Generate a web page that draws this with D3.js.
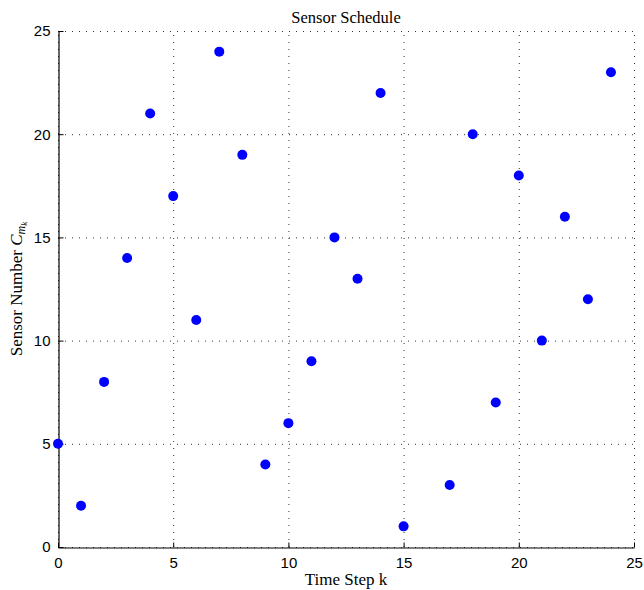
<!DOCTYPE html>
<html><head><meta charset="utf-8">
<script src="https://cdn.jsdelivr.net/npm/d3@7"></script>
<style>body{margin:0;background:#fff}</style>
</head><body>
<script>
const timeSteps = [0,1,2,3,4,5,6,7,8,9,10,11,12,13,14,15,17,18,19,20,21,22,23,24];
const sensorNumbers = [5,2,8,14,21,17,11,24,19,4,6,9,15,13,22,1,3,20,7,18,10,16,12,23];
const xTicks = [0,5,10,15,20,25];
const yTicks = [0,5,10,15,20,25];

const W = 644, H = 590;
const m = {left:58, right:10, top:31, bottom:43};
const svg = d3.select("body").append("svg").attr("width",W).attr("height",H);
const x = d3.scaleLinear().domain([0,25]).range([m.left, W-m.right]);
const y = d3.scaleLinear().domain([0,25]).range([H-m.bottom, m.top]);

// grid
const g = svg.append("g");
g.selectAll(".vg").data(xTicks).join("line")
  .attr("x1",d=>x(d)+0.5).attr("x2",d=>x(d)+0.5)
  .attr("y1",y(0)).attr("y2",y(25))
  .attr("stroke","#333").attr("stroke-width",1).attr("stroke-dasharray","1,6");
g.selectAll(".hg").data(yTicks).join("line")
  .attr("y1",d=>y(d)+0.5).attr("y2",d=>y(d)+0.5)
  .attr("x1",x(0)).attr("x2",x(25))
  .attr("stroke","#333").attr("stroke-width",1).attr("stroke-dasharray","1,6");

// axes
const xa = svg.append("g").attr("transform",`translate(0,${y(0)+0.5})`)
  .call(d3.axisBottom(x).tickValues(xTicks).tickSize(-5).tickPadding(10).tickSizeOuter(0));
const ya = svg.append("g").attr("transform",`translate(${x(0)+0.5},0)`)
  .call(d3.axisLeft(y).tickValues(yTicks).tickSize(-5).tickPadding(8).tickSizeOuter(0));
[xa,ya].forEach(a=>{
  a.select(".domain").attr("stroke","#000").attr("stroke-width",1.2);
  a.selectAll(".tick line").attr("stroke","#000");
  a.selectAll("text").attr("font-family","Liberation Sans, Arial, sans-serif").attr("font-size",15).attr("fill","#000");
});

// points
svg.append("g").selectAll("circle").data(timeSteps.map((t,i)=>[t,sensorNumbers[i]])).join("circle")
  .attr("cx",d=>x(d[0])).attr("cy",d=>y(d[1])).attr("r",5).attr("fill","#0000ff");

const serif = "Liberation Serif, DejaVu Serif, serif";
svg.append("text").attr("x",(x(0)+x(25))/2).attr("y",23).attr("text-anchor","middle")
  .attr("font-family",serif).attr("font-size",16.5).text("Sensor Schedule");
svg.append("text").attr("x",(x(0)+x(25))/2).attr("y",585).attr("text-anchor","middle")
  .attr("font-family",serif).attr("font-size",17).text("Time Step k");
const yl = svg.append("text").attr("transform",`translate(22,${(y(0)+y(25))/2}) rotate(-90)`)
  .attr("text-anchor","middle").attr("font-family",serif).attr("font-size",17);
yl.append("tspan").text("Sensor Number ");
yl.append("tspan").attr("font-style","italic").text("C");
yl.append("tspan").attr("font-style","italic").attr("font-size",12).attr("dy",3).text("m");
yl.append("tspan").attr("font-style","italic").attr("font-size",9).attr("dy",2).text("k");
</script>
</body></html>
